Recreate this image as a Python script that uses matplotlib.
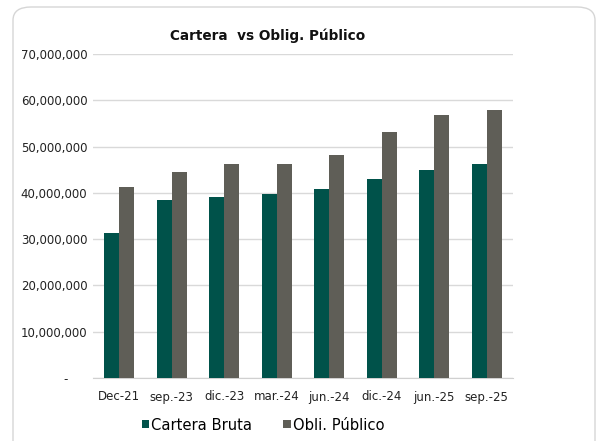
import numpy as np
import matplotlib
matplotlib.use('Agg')
import matplotlib.pyplot as plt
from matplotlib.patches import FancyBboxPatch
from matplotlib.ticker import FuncFormatter

categories = ["Dec-21", "sep.-23", "dic.-23", "mar.-24", "jun.-24", "dic.-24", "jun.-25", "sep.-25"]
cartera_bruta = [31.4e6, 38.5e6, 39.2e6, 39.8e6, 40.8e6, 42.9e6, 44.9e6, 46.2e6]
obli_publico = [41.3e6, 44.6e6, 46.3e6, 46.2e6, 48.2e6, 53.1e6, 56.9e6, 57.8e6]

green = "#00524A"
gray = "#5F5E57"

plt.rcParams['font.family'] = ['DejaVu Sans']

W, H = 603, 441
fig = plt.figure(figsize=(W / 100, H / 100), dpi=100)

# chart frame with rounded corners, kept behind the axes
frame = FancyBboxPatch((13 / W, -0.05), 582 / W, 1.05 - 7 / H,
                       boxstyle="round,pad=0,rounding_size=0.03",
                       transform=fig.transFigure, facecolor="white",
                       edgecolor="#D6D6D6", linewidth=1.0, zorder=-1)
fig.patches.append(frame)

ax = fig.add_axes([93 / W, 1 - 378 / H, (513 - 93) / W, (378 - 54) / H])
ax.set_facecolor("none")

x = np.arange(len(categories))
bw = 0.286
ax.bar(x - bw / 2, cartera_bruta, bw, color=green, label="Cartera Bruta", zorder=3)
ax.bar(x + bw / 2, obli_publico, bw, color=gray, label="Obli. Público", zorder=3)

ax.set_xlim(-0.5, len(categories) - 0.5)
ax.set_ylim(0, 70e6)
ax.set_yticks(np.arange(0, 70e6 + 1, 10e6))
# accounting style: zero shown as a dash, set in from the right edge
ax.yaxis.set_major_formatter(FuncFormatter(lambda v, p: "-     " if v == 0 else f"{v:,.0f}"))
ax.set_xticks(x)
ax.set_xticklabels(categories)
ax.tick_params(axis='both', length=0, labelsize=8.5, colors="#222222")
ax.tick_params(axis='y', pad=4)
ax.tick_params(axis='x', pad=9)
ax.grid(axis='y', color="#D9D9D9", linewidth=1.0, zorder=0)
for s in ["top", "right", "left"]:
    ax.spines[s].set_visible(False)
ax.spines["bottom"].set_color("#D0D0D0")

fig.text(268 / W, 1 - 36 / H, "Cartera  vs Oblig. Público", ha="center", va="center",
         fontsize=9.8, fontweight="semibold", color="#111111")

fig.legend(loc="center", bbox_to_anchor=(263 / W, 1 - 425 / H), ncol=2, frameon=False,
           fontsize=10.6, handlelength=0.5, handleheight=0.5, handletextpad=0.15,
           columnspacing=2.1)

fig.savefig("out.png", dpi=100)
